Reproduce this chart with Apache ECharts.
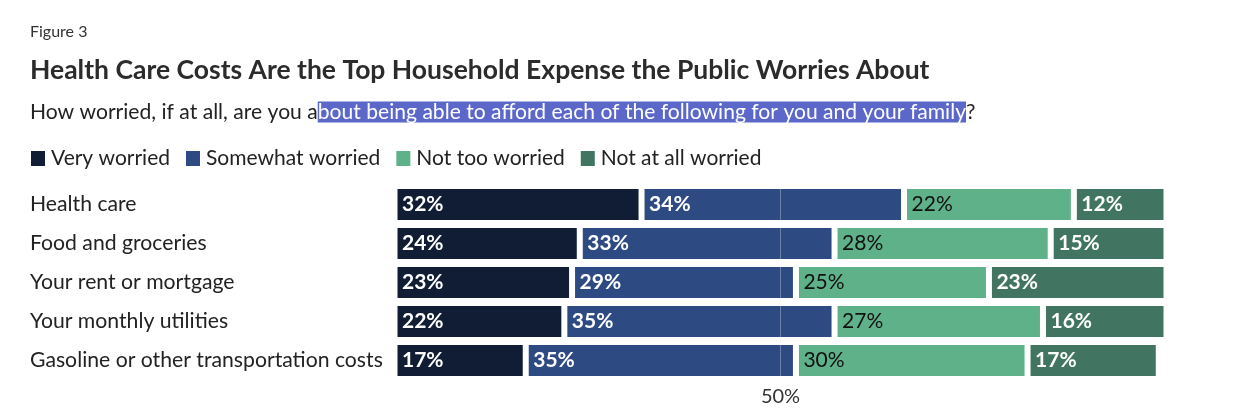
<!DOCTYPE html>
<html>
<head>
<meta charset="utf-8">
<title>Figure 3</title>
<script src="https://cdn.jsdelivr.net/npm/echarts@6/dist/echarts.min.js"></script>
<style>
  html, body { margin: 0; padding: 0; background: #fff; }
  #chart { width: 1249px; height: 408px; }
</style>
</head>
<body>
<div id="chart"></div>
<script>
const categories = [
  'Health care',
  'Food and groceries',
  'Your rent or mortgage',
  'Your monthly utilities',
  'Gasoline or other transportation costs',
];
const seriesNames = ['Very worried', 'Somewhat worried', 'Not too worried', 'Not at all worried'];
const veryWorried = [32, 24, 23, 22, 17];
const somewhatWorried = [34, 33, 29, 35, 35];
const notTooWorried = [22, 28, 25, 27, 30];
const notAtAllWorried = [12, 15, 23, 16, 17];
const refTicks = [50]; // only tick shown on the x axis

const colors = ['#101d35', '#2e4a82', '#5fb189', '#417562'];
const labelColors = ['#fff', '#fff', '#111', '#fff'];
const FONT = 'Lato';

const chart = echarts.init(document.getElementById('chart'));

function makeSeries(name, data, i) {
  const s = {
    name: name,
    type: 'bar',
    stack: 'total',
    data: data,
    barWidth: 37,
    itemStyle: { color: colors[i], borderColor: '#fff', borderWidth: 3 },
    label: {
      show: true,
      position: 'insideLeft',
      distance: 7.5,
      formatter: '{c}%',
      color: labelColors[i],
      fontFamily: FONT,
      fontSize: 21,
      fontWeight: i === 2 ? 'normal' : 'bold',
    },
    emphasis: { disabled: true },
  };
  if (i === 3) {
    // 50% guide, drawn above the bars
    s.markLine = {
      silent: true,
      symbol: 'none',
      label: { show: false },
      lineStyle: { color: 'rgba(255,255,255,0.3)', type: 'solid', width: 1 },
      data: refTicks.map(v => ({ xAxis: v })),
      z: 10,
    };
  }
  return s;
}

const option = {
  backgroundColor: '#fff',
  animation: false,
  title: [
    {
      text: 'Figure 3',
      left: 30,
      top: 24,
      padding: 0,
      textStyle: { fontFamily: FONT, fontSize: 16, fontWeight: 'normal', color: '#333' },
    },
    {
      text: 'Health Care Costs Are the Top Household Expense the Public Worries About',
      left: 30,
      top: 57,
      padding: 0,
      textStyle: { fontFamily: FONT, fontSize: 26.5, fontWeight: 'bold', color: '#2b2b2b' },
    },
    {
      text: '{a|How worried, if at all, are you a}{h|bout being able to afford each of the following for you and your family}{a|?}',
      left: 30,
      top: 98.5,
      padding: 0,
      textStyle: {
        rich: {
          a: { fontFamily: FONT, fontSize: 21.1, fontWeight: 'normal', color: '#222', lineHeight: 27 },
          h: { fontFamily: FONT, fontSize: 21.1, fontWeight: 'normal', color: '#fff', lineHeight: 27, backgroundColor: '#5b67c9' },
        },
      },
    },
  ],
  legend: {
    data: seriesNames,
    left: 29,
    top: 148,
    padding: 0,
    icon: 'rect',
    itemWidth: 16,
    itemHeight: 17,
    itemGap: 14,
    selectedMode: false,
    textStyle: { fontFamily: FONT, fontSize: 21, color: '#222' },
  },
  grid: {
    left: 394.5,
    right: 82.5,
    top: 185,
    bottom: 28,
    containLabel: false,
    outerBoundsMode: 'none',
  },
  xAxis: {
    type: 'value',
    min: 0,
    max: 100,
    interval: 50,
    axisLine: { show: false },
    axisTick: { show: false },
    splitLine: { show: false },
    axisLabel: {
      margin: 7,
      fontFamily: FONT,
      fontSize: 20,
      color: '#333',
      formatter: v => (refTicks.includes(v) ? v + '%' : ''),
    },
  },
  yAxis: {
    type: 'category',
    data: categories,
    inverse: true,
    axisLine: { show: false },
    axisTick: { show: false },
    axisLabel: {
      align: 'left',
      margin: 364.5,
      fontFamily: FONT,
      fontSize: 21.2,
      color: '#222',
    },
  },
  series: [
    makeSeries(seriesNames[0], veryWorried, 0),
    makeSeries(seriesNames[1], somewhatWorried, 1),
    makeSeries(seriesNames[2], notTooWorried, 2),
    makeSeries(seriesNames[3], notAtAllWorried, 3),
  ],
};

chart.setOption(option);
</script>
</body>
</html>
